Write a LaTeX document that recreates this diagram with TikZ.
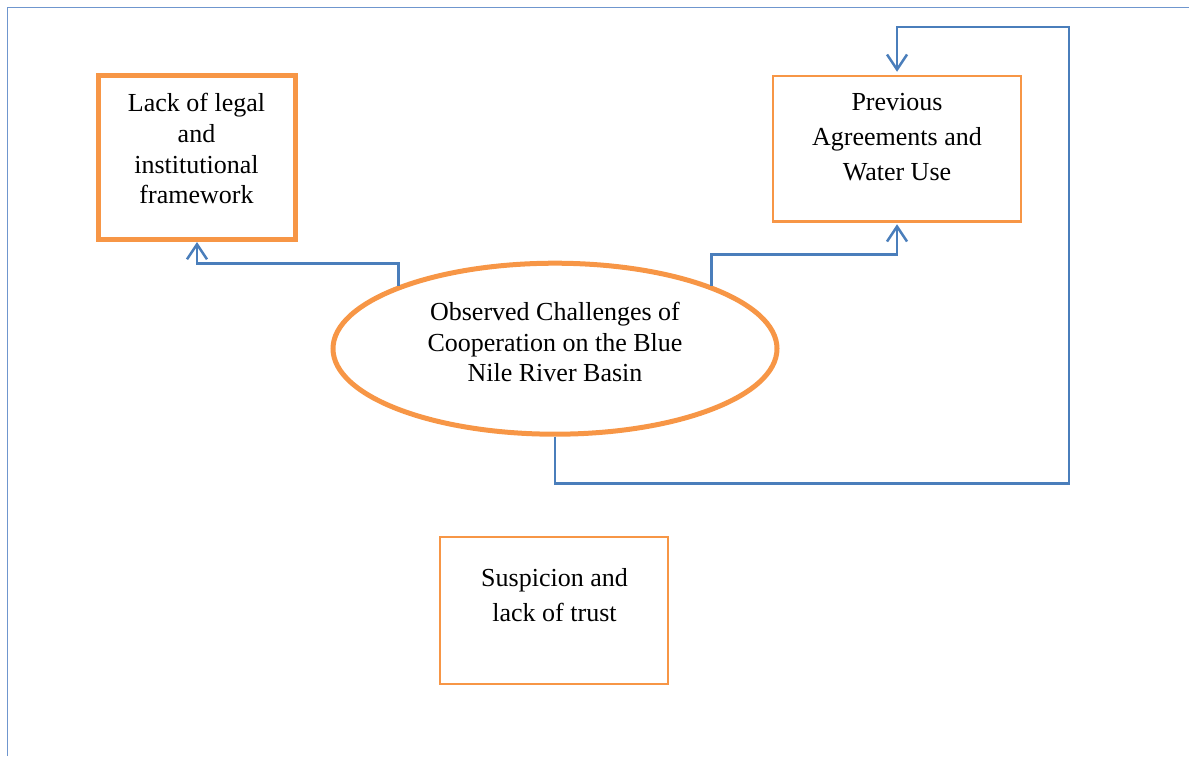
\documentclass[tikz,border=0pt]{standalone}
\usepackage{fontspec}
\setmainfont{Liberation Serif}
\usetikzlibrary{arrows.meta,shapes.geometric}

\definecolor{accentorange}{HTML}{F79646}
\definecolor{linkblue}{HTML}{4A7EBB}
\definecolor{pageframe}{HTML}{6F96CE}

\tikzset{
  thickbox/.style={draw=accentorange, line width=5pt, rectangle, inner sep=0pt},
  thinbox/.style={draw=accentorange, line width=2.5pt, rectangle, inner sep=0pt},
  oval/.style={draw=accentorange, line width=5pt, ellipse, inner sep=0pt},
  tighttext/.style={align=center, inner sep=0pt, font=\fontsize{26}{30.7}\selectfont},
  loosetext/.style={align=center, inner sep=0pt, font=\fontsize{26}{34.9}\selectfont},
  link/.style={draw=linkblue, line width=2.5pt, line join=miter},
  openhead/.style={-{Straight Barb[length=15pt,width=20pt]}}
}

\begin{document}
\begin{tikzpicture}[x=1pt, y=-1pt]
  \useasboundingbox (0,0) rectangle (1189,756);

  % page frame (left and top edges)
  \draw[pageframe, line width=1.5pt] (7.5,756) -- (7.5,7.5) -- (1189,7.5);

  % shapes
  \node[thickbox, minimum width=196.5pt, minimum height=164pt] (legal) at (197,157.5) {};
  \node[thinbox, minimum width=248pt, minimum height=145.5pt] (prev) at (897,148.75) {};
  \node[oval, minimum width=444pt, minimum height=171pt] (obs) at (555,348.7) {};
  \node[thinbox, minimum width=228pt, minimum height=147pt] (susp) at (554,610.5) {};

  % labels
  \node[tighttext] (legaltext) at (196.5,148.9) {Lack of legal\\and\\institutional\\framework};
  \node[loosetext] (prevtext) at (897,136.9) {Previous\\Agreements and\\Water Use};
  \node[tighttext] (obstext) at (555,342.1) {Observed Challenges of\\Cooperation on the Blue\\Nile River Basin};
  \node[loosetext] (susptext) at (554.5,595.1) {Suspicion and\\lack of trust};

  % connectors
  \coordinate (lowrun) at (0,483.5);
  \coordinate (toprun) at (0,27);
  \coordinate (rightrun) at (1069,0);
  \draw[link, openhead] (obs.158.2) -- (obs.158.2 |- 0,263.5)
        -- (legal.south |- 0,263.5) -- (legal.south);
  \draw[link, openhead, shorten >=1.5pt] (obs.22.8) -- (obs.22.8 |- 0,254.5)
        -- (prev.south |- 0,254.5) -- (prev.south);
  \draw[link, openhead, shorten >=3pt] (obs.south) -- (obs.south |- lowrun)
        -- (rightrun |- lowrun) -- (rightrun |- toprun)
        -- (prev.north |- toprun) -- (prev.north);
\end{tikzpicture}
\end{document}
